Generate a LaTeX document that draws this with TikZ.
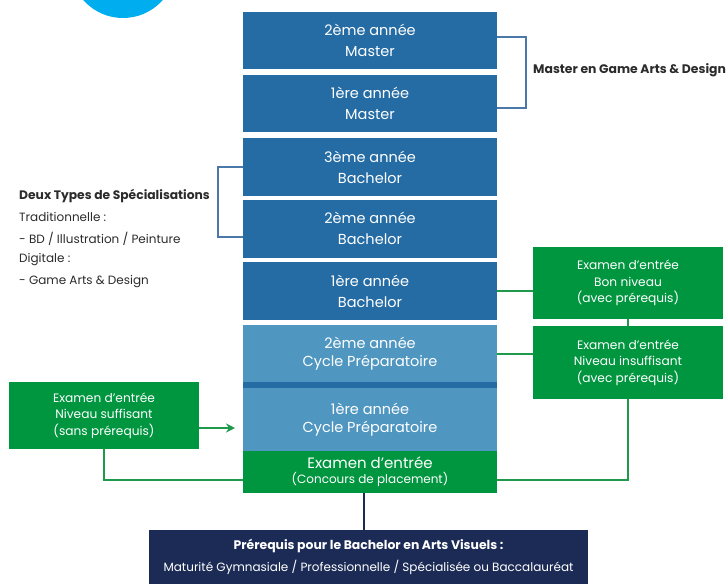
\documentclass[tikz,border=0pt]{standalone}
\usepackage{fontspec}
\setmainfont{Poppins}
\usetikzlibrary{arrows.meta,calc}
\definecolor{dblue}{HTML}{256CA5}
\definecolor{lblue}{HTML}{4F96C1}
\definecolor{egreen}{HTML}{00963F}
\definecolor{lgreen}{HTML}{1F9A4A}
\definecolor{navy}{HTML}{1C2B55}
\definecolor{steel}{HTML}{4A78A8}
\definecolor{cyanc}{HTML}{00AEEF}
\definecolor{txt}{HTML}{2B2B2B}
\begin{document}
\begin{tikzpicture}[x=1pt,y=-1pt,
  colbox/.style={fill=dblue,draw=none,text=white,align=center,minimum width=254pt,inner sep=0pt,font=\fontsize{14.5}{21}\selectfont},
  prepbox/.style={colbox,fill=lblue},
  greenbox/.style={fill=egreen,draw=none,text=white,align=center,minimum width=190pt,inner sep=0pt,font=\fontsize{12.2}{16.5}\selectfont},
  bracketline/.style={draw=steel,line width=1.8pt},
  gline/.style={draw=lgreen,line width=2pt},
  lefttext/.style={anchor=west,text=txt,inner sep=0pt,font=\fontsize{12}{13}\selectfont}
]
\useasboundingbox (0,0) rectangle (728,584);
\fill[cyanc] (123,-35) circle (53);

% column
\node[colbox,minimum height=57pt] (m2) at (370,40.5) {2ème année\\Master};
\node[colbox,minimum height=57pt] (m1) at (370,103.5) {1ère année\\Master};
\node[colbox,minimum height=58pt] (b3) at (370,167) {3ème année\\Bachelor};
\node[colbox,minimum height=58pt] (b2) at (370,228.5) {2ème année\\Bachelor};
\node[colbox,minimum height=58pt] (b1) at (370,291) {1ère année\\Bachelor};
\node[prepbox,minimum height=57pt] (p2) at (370,353.5) {2ème année\\[-3pt]Cycle Préparatoire};
\fill[dblue] (243,382) rectangle (497,388);
\node[prepbox,minimum height=63pt] (p1) at (370,419.5) {1ère année\\[-3pt]Cycle Préparatoire};
\node[colbox,fill=egreen,minimum height=42pt,font=\fontsize{15}{17}\selectfont] (ex) at (370,472) {Examen d’entrée\\[-2pt]{\fontsize{12}{13}\selectfont (Concours de placement)}};

% master bracket
\coordinate (mt) at (497,37);
\coordinate (mb) at (497,108);
\draw[bracketline] (mt) -- ++(29,0) coordinate (mtr) -- (mtr |- mb) -- (mb);
\node[anchor=west,inner sep=0pt,text=txt,font=\bfseries\fontsize{12.4}{13}\selectfont] (mlab) at (533,70) {Master en Game Arts \& Design};

% spec bracket
\coordinate (st) at (243,167);
\coordinate (sb) at (243,237);
\draw[bracketline] (st) -- ++(-25,0) coordinate (stl) -- (stl |- sb) -- (sb);
\node[lefttext,font=\bfseries\fontsize{12.3}{13}\selectfont] (s0) at (19,196) {Deux Types de Spécialisations};
\node[lefttext] (s1) at (19,217) {Traditionnelle :};
\node[lefttext] (s2) at (19,238.5) {- BD / Illustration / Peinture};
\node[lefttext] (s3) at (19,260) {Digitale :};
\node[lefttext] (s4) at (19,281.5) {- Game Arts \& Design};

% right green boxes
\node[greenbox,minimum height=72pt] (ga) at (628,283) {Examen d’entrée\\Bon niveau\\(avec prérequis)};
\node[greenbox,minimum height=73pt] (gb) at (628,362.5) {Examen d’entrée\\Niveau insuffisant\\(avec prérequis)};
\draw[gline] (b1.east) -- (ga.west |- b1.east);
\draw[gline] (p2.east) -- (gb.west |- p2.east);
\draw[gline] (ga.south) -- (gb.north);
\coordinate (exr) at (497,480);
\draw[gline] (gb.south) -- (gb.south |- exr) -- (exr);

% left green box
\node[greenbox,minimum height=67pt] (gl) at (104,415.5) {Examen d’entrée\\Niveau suffisant\\(sans prérequis)};
\draw[gline,-{Stealth[length=9pt,width=9pt]}] (gl.east |- 0,428) -- (235,428) coordinate (arr);
\coordinate (exl) at (243,480);
\draw[gline] (gl.south) -- (gl.south |- exl) -- (exl);

% navy box
\node[fill=navy,text=white,align=center,minimum width=439pt,minimum height=54pt,inner sep=0pt,font=\fontsize{12}{22}\selectfont] (nv) at (368.5,557) {{\bfseries\fontsize{12.4}{22}\selectfont Prérequis pour le Bachelor en Arts Visuels :}\\Maturité Gymnasiale / Professionnelle / Spécialisée ou Baccalauréat};
\draw[draw=navy,line width=2pt] (ex.south -| nv.north) ++(-4.5,0) coordinate (nvt) -- (nvt |- nv.north);
\end{tikzpicture}
\end{document}
